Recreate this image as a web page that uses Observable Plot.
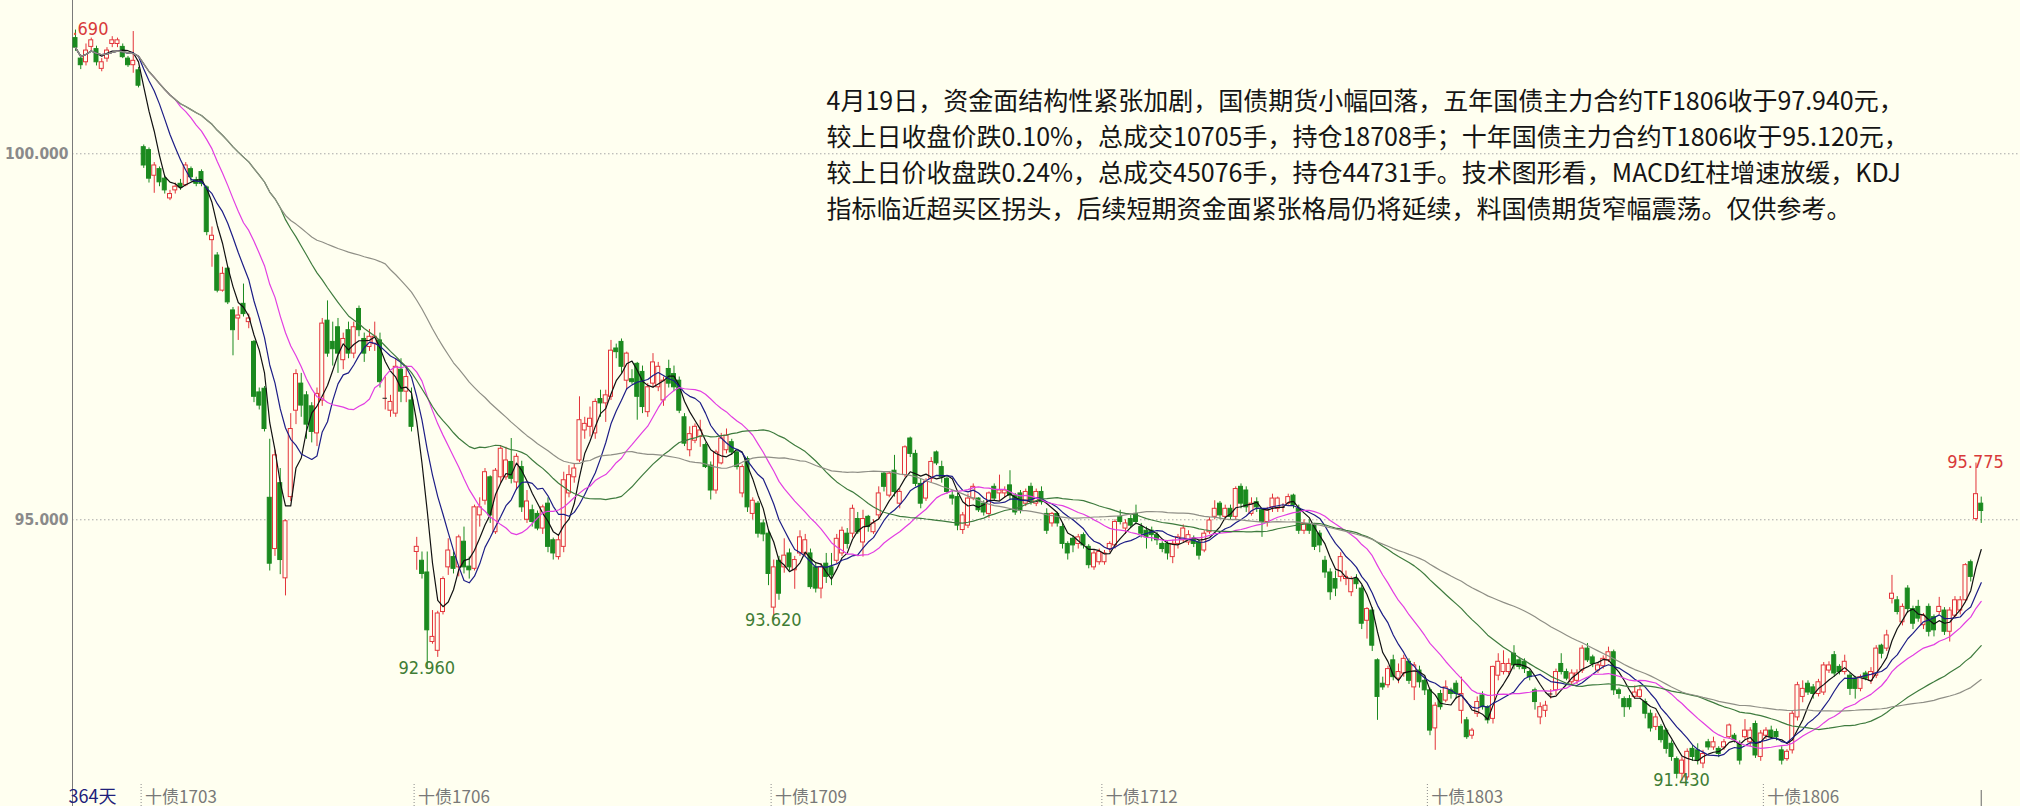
<!DOCTYPE html>
<html><head><meta charset="utf-8">
<script src="https://cdn.jsdelivr.net/npm/d3@7"></script>
<script src="https://cdn.jsdelivr.net/npm/@observablehq/plot@0.6"></script>
<style>
html,body{margin:0;padding:0;background:#fffff0;}
#chart{width:2020px;height:806px;overflow:hidden;}
</style></head>
<body><div id="chart"></div>
<script>
// ---- data, one candle per trading day ----
const open = [
101.58,101.30,101.25,101.46,101.43,101.16,101.30,101.50,101.50,101.46,
101.30,101.21,101.14,100.09,100.05,99.70,99.79,99.66,99.39,99.50,
99.59,99.57,99.79,99.64,99.75,99.54,98.82,98.61,98.13,98.43,
97.86,97.75,97.95,97.70,97.43,96.74,96.79,95.30,94.60,95.50,
94.20,95.31,96.49,96.86,96.70,96.55,96.18,96.63,97.72,97.43,
97.63,97.18,97.59,97.27,97.88,97.47,97.36,97.40,97.45,96.66,
96.49,96.45,97.05,96.75,96.63,94.56,94.44,94.28,93.33,93.21,
93.74,94.35,94.49,94.35,94.70,94.36,94.33,95.06,95.26,95.58,
94.83,95.58,95.58,95.79,95.51,95.72,95.00,95.13,95.08,94.88,
95.22,94.72,94.49,94.63,95.36,95.58,95.81,96.22,96.27,96.18,
96.65,96.59,96.68,97.34,97.43,96.90,96.92,97.13,97.02,96.47,
96.86,96.81,96.63,97.06,96.99,96.90,96.40,95.95,96.08,96.13,
96.02,95.74,95.40,95.77,95.95,96.06,95.92,95.36,95.83,95.08,
95.22,94.95,94.81,93.80,94.44,94.35,94.54,94.31,94.54,94.54,
94.54,94.35,94.06,94.40,94.35,94.44,94.54,94.81,94.81,95.01,
94.69,95.04,94.83,95.06,95.63,95.33,95.67,95.22,95.61,96.11,
95.90,95.49,95.29,95.56,95.92,95.72,95.56,95.33,95.31,94.86,
94.92,95.29,95.29,95.22,95.08,95.45,95.36,95.36,95.47,95.33,
95.36,95.22,95.45,95.22,95.38,95.08,94.95,95.08,94.90,94.67,
94.74,94.67,94.79,94.63,94.35,94.42,94.42,94.60,94.65,95.04,
94.88,95.01,95.08,94.90,94.85,94.85,94.79,94.67,94.67,94.49,
94.67,94.72,94.69,94.74,94.69,94.58,94.83,95.04,95.22,95.04,
95.15,95.04,95.45,95.40,95.08,95.24,95.13,94.97,95.17,95.15,
95.17,95.22,95.33,95.15,94.85,94.94,94.92,94.81,94.44,94.28,
94.19,94.22,94.19,94.01,94.19,94.06,93.62,93.76,93.08,92.76,
92.74,93.08,92.83,92.90,93.06,92.71,92.94,92.80,92.67,92.15,
92.62,92.53,92.67,92.76,92.39,92.26,92.05,92.35,92.60,92.44,
92.28,92.87,92.92,92.92,93.17,93.08,93.06,92.92,92.67,92.30,
92.39,92.62,92.67,93.03,92.92,92.78,92.80,92.94,93.24,93.12,
92.94,93.00,93.08,93.19,92.67,92.55,92.55,92.58,92.58,92.51,
92.35,92.17,92.17,92.12,91.94,91.73,91.53,91.48,91.87,91.85,
91.67,91.96,91.89,91.87,91.89,92.03,92.05,91.94,92.03,91.96,
92.21,91.76,92.05,92.12,92.10,91.85,91.73,91.85,92.30,92.58,
92.76,92.71,92.62,92.64,92.94,93.15,92.99,92.92,92.87,92.83,
92.69,92.90,92.80,92.87,93.28,93.24,93.92,93.90,93.60,94.06,
93.78,93.81,93.56,93.81,93.67,93.74,93.76,93.47,93.69,93.76,
93.90,94.42,95.01,95.22];
const high = [
101.69,101.35,101.50,101.58,101.47,101.30,101.45,101.60,101.58,101.50,
101.33,101.67,101.18,100.12,100.08,99.88,99.82,99.70,99.50,99.60,
99.65,99.88,99.82,99.68,99.78,99.56,99.00,98.65,98.45,98.46,
97.90,97.91,98.22,97.81,97.45,96.80,96.82,96.10,95.95,95.70,
95.00,96.45,97.05,97.00,96.75,96.60,96.80,97.75,97.99,97.70,
97.75,97.55,97.70,97.70,97.92,97.55,97.60,97.70,97.55,96.95,
96.70,97.20,97.20,97.10,96.80,94.76,94.56,94.56,93.76,93.75,
94.22,94.74,94.56,94.79,94.90,94.49,95.20,95.30,95.70,95.60,
95.70,96.00,95.99,96.11,95.90,95.80,95.40,95.20,95.12,95.20,
95.30,94.75,94.80,95.65,95.74,95.77,96.68,96.40,96.54,96.65,
96.77,96.77,97.45,97.40,97.47,97.29,97.05,97.15,97.10,96.86,
97.27,97.15,96.95,97.18,97.10,96.95,96.45,96.27,96.31,96.36,
96.05,95.79,95.95,96.18,96.24,96.10,95.95,95.75,95.86,95.30,
95.25,95.00,94.85,94.45,94.50,94.74,94.60,94.50,94.85,94.80,
94.60,94.40,94.40,94.54,94.54,94.80,94.90,94.88,95.20,95.10,
95.13,95.06,95.00,95.45,95.65,95.66,95.88,95.42,96.01,96.13,
95.95,95.55,95.56,95.85,95.94,95.80,95.60,95.40,95.36,95.10,
95.35,95.49,95.30,95.26,95.38,95.49,95.61,95.45,95.67,95.36,
95.40,95.42,95.50,95.42,95.45,95.15,95.10,95.10,94.95,94.70,
94.78,94.80,94.82,94.66,94.58,94.60,94.58,94.70,95.00,95.13,
95.00,95.06,95.20,94.95,94.90,94.90,94.83,94.70,94.70,94.72,
94.80,94.93,94.85,94.78,94.72,94.85,95.03,95.26,95.25,95.20,
95.20,95.45,95.49,95.45,95.30,95.30,95.15,95.17,95.35,95.31,
95.22,95.35,95.35,95.20,95.00,95.00,94.95,94.85,94.50,94.33,
94.30,94.55,94.30,94.22,94.25,94.10,93.80,93.80,93.10,92.85,
93.00,93.15,93.03,93.15,93.10,93.05,93.00,92.85,92.70,92.50,
92.67,92.80,92.70,92.80,92.85,92.30,92.15,92.58,92.65,92.46,
93.00,93.17,93.21,93.10,93.28,93.12,93.10,92.95,92.70,92.50,
92.52,92.68,92.96,93.17,92.96,92.95,92.95,93.28,93.31,93.15,
93.05,93.14,93.26,93.22,92.70,92.58,92.60,92.73,92.72,92.55,
92.40,92.35,92.20,92.15,91.98,91.76,91.76,91.87,91.92,91.94,
91.85,92.00,92.03,91.90,92.00,92.21,92.08,91.98,92.27,92.16,
92.25,92.12,92.16,92.18,92.14,91.90,91.86,92.39,92.78,92.80,
92.80,92.75,92.82,93.05,93.06,93.20,93.02,93.15,92.90,92.86,
92.88,92.93,92.98,93.28,93.30,93.49,94.24,93.95,93.85,94.10,
93.82,93.90,93.72,93.85,93.70,93.94,93.80,93.80,93.95,93.95,
94.40,94.45,95.775,95.31];
const low = [
101.40,101.15,101.20,101.40,101.20,101.12,101.25,101.45,101.45,101.30,
101.18,101.10,100.90,99.80,99.60,99.46,99.55,99.45,99.36,99.45,
99.50,99.55,99.62,99.55,99.55,98.88,98.45,98.10,98.11,97.94,
97.24,97.45,97.77,97.61,96.60,96.50,96.20,94.30,94.50,94.25,
93.96,95.25,96.30,96.40,96.10,96.05,96.00,96.55,97.22,97.10,
97.00,97.05,97.20,97.20,97.50,97.15,97.30,97.30,96.80,96.50,
96.40,96.40,96.60,96.60,96.20,94.31,94.19,92.96,93.30,93.12,
93.70,94.24,94.26,94.22,94.26,94.19,94.30,94.90,95.20,94.95,
94.80,95.50,95.54,95.49,95.40,95.10,94.95,94.90,94.85,94.80,
94.55,94.45,94.45,94.55,95.30,95.50,95.78,96.10,96.13,96.10,
96.40,96.33,96.63,97.20,97.00,96.77,96.85,96.36,96.45,96.40,
96.80,96.75,96.55,96.80,96.75,96.45,96.00,95.86,96.04,95.99,
95.70,95.27,95.35,95.75,95.90,95.88,95.68,95.30,95.10,95.00,
94.75,94.70,94.10,93.62,93.90,94.27,94.30,94.05,94.50,94.50,
94.05,94.00,93.92,94.13,94.10,94.40,94.50,94.60,94.75,94.80,
94.49,94.83,94.80,95.00,95.38,95.30,95.31,95.15,95.58,95.85,
95.45,95.15,95.25,95.50,95.74,95.50,95.35,95.20,94.85,94.80,
94.88,95.26,95.10,95.05,95.02,95.26,95.26,95.30,95.26,95.06,
95.08,95.18,95.20,95.18,95.20,94.80,94.90,94.90,94.60,94.45,
94.55,94.60,94.60,94.33,94.31,94.38,94.38,94.55,94.60,94.93,
94.80,94.88,94.93,94.75,94.60,94.70,94.65,94.55,94.45,94.40,
94.60,94.68,94.65,94.62,94.45,94.55,94.80,95.00,95.00,95.00,
95.00,95.00,95.15,95.10,95.05,95.10,94.76,94.90,95.10,95.10,
95.10,95.20,95.15,94.80,94.80,94.80,94.58,94.55,94.20,93.90,
93.95,94.15,94.10,93.95,94.05,93.50,93.37,93.20,92.26,92.67,
92.70,92.80,92.76,92.85,92.75,92.53,92.70,92.60,92.05,91.85,
92.40,92.50,92.55,92.55,92.21,92.00,92.00,92.30,92.40,92.21,
92.21,92.80,92.88,92.88,92.95,92.95,92.90,92.80,92.40,92.20,
92.30,92.55,92.60,92.88,92.80,92.75,92.75,92.90,93.05,92.98,
92.90,92.96,93.05,92.60,92.55,92.30,92.40,92.55,92.55,92.28,
92.10,92.12,91.95,91.80,91.70,91.46,91.43,91.44,91.70,91.65,
91.60,91.85,91.85,91.75,91.85,92.00,91.95,91.65,92.00,91.90,
91.74,91.70,92.00,92.00,91.98,91.65,91.70,91.80,92.25,92.50,
92.60,92.55,92.58,92.60,92.90,92.85,92.88,92.88,92.60,92.55,
92.65,92.80,92.75,92.83,93.10,93.20,93.85,93.70,93.55,93.72,
93.50,93.60,93.50,93.40,93.40,93.70,93.42,93.33,93.65,93.70,
93.87,94.15,94.98,94.95];
const close = [
101.45,101.21,101.41,101.55,101.25,101.25,101.41,101.55,101.55,101.32,
101.21,101.27,100.93,99.84,99.66,99.84,99.61,99.50,99.45,99.55,
99.54,99.84,99.68,99.59,99.59,98.93,98.88,98.13,98.36,97.97,
97.59,97.79,97.81,97.75,96.68,96.56,96.24,94.40,95.88,94.45,
94.98,96.24,96.99,96.56,96.30,96.20,96.72,97.68,97.27,97.33,
97.27,97.47,97.27,97.63,97.59,97.27,97.50,97.50,96.88,96.66,
96.61,97.09,96.75,96.95,96.27,94.63,94.26,93.49,93.40,93.72,
94.19,94.58,94.33,94.76,94.35,94.31,95.17,95.17,95.65,95.06,
95.67,95.97,95.81,95.56,95.86,95.17,95.25,94.97,94.88,95.17,
94.63,94.54,94.72,95.54,95.61,95.70,96.36,96.31,96.38,96.61,
96.59,96.70,97.31,97.29,97.09,97.27,96.88,96.68,96.54,96.81,
97.15,97.09,96.90,96.86,96.81,96.49,96.04,96.17,96.27,96.22,
95.72,95.40,95.92,96.11,96.15,95.92,95.72,95.72,95.17,95.26,
94.81,94.80,94.26,94.35,93.99,94.51,94.35,94.45,94.76,94.72,
94.08,94.06,94.35,94.22,94.24,94.74,94.85,94.67,95.15,94.83,
95.01,94.90,94.95,95.36,95.45,95.63,95.38,95.38,95.99,95.90,
95.49,95.22,95.52,95.79,95.77,95.58,95.38,95.29,94.92,95.06,
95.29,95.45,95.13,95.10,95.36,95.29,95.40,95.40,95.33,95.10,
95.13,95.38,95.26,95.38,95.24,94.85,95.08,94.95,94.67,94.54,
94.65,94.76,94.65,94.38,94.54,94.56,94.54,94.67,94.97,94.97,
94.95,94.92,94.97,94.81,94.76,94.79,94.72,94.60,94.54,94.67,
94.76,94.88,94.79,94.67,94.51,94.81,94.99,95.15,95.06,95.15,
95.04,95.42,95.22,95.17,95.22,95.17,94.97,95.13,95.29,95.29,
95.17,95.31,95.20,94.85,94.94,94.85,94.63,94.65,94.28,94.01,
94.06,94.49,94.22,94.19,94.12,93.58,93.78,93.28,92.58,92.71,
92.96,92.85,92.92,93.10,92.80,93.01,92.78,92.67,92.12,92.46,
92.44,92.71,92.62,92.62,92.62,92.03,92.12,92.51,92.44,92.26,
92.99,93.06,93.03,93.03,93.01,92.99,92.96,92.85,92.51,92.44,
92.46,92.62,92.92,92.92,92.83,92.90,92.90,93.24,93.08,93.03,
93.01,93.10,93.19,92.67,92.62,92.44,92.44,92.64,92.67,92.35,
92.15,92.30,91.99,91.87,91.76,91.53,91.71,91.83,91.76,91.71,
91.80,91.89,91.96,91.80,91.96,92.19,91.99,91.71,92.12,92.12,
91.78,92.08,92.12,92.03,92.03,91.71,91.83,92.35,92.74,92.69,
92.64,92.62,92.78,93.01,93.01,92.90,92.92,93.06,92.69,92.69,
92.85,92.83,92.92,93.24,93.17,93.42,93.99,93.74,93.81,93.78,
93.58,93.65,93.69,93.47,93.49,93.81,93.47,93.76,93.90,93.90,
94.38,94.22,95.35,95.12];

// contract roll points on the time axis and their labels
const rollPos = [12.5, 64.5, 132.5, 195.5, 257.5, 321.5];
const rollLabels = ["十债1703","十债1706","十债1709","十债1712","十债1803","十债1806"];
// marked extremes: bar index and which end
const markIdx  = [0, 67, 133, 306, 362];
const markKind = ["high","low","low","low","high"];
const yTicks = [95, 100];
const maWindows = [5, 10, 20, 40, 60];
const maColors  = ["#111111", "#1d1d86", "#e23ee2", "#3e7b3e", "#8f8f86"];
const barCountLabel = "364天";
const noteLines = [
  "4月19日，资金面结构性紧张加剧，国债期货小幅回落，五年国债主力合约TF1806收于97.940元，",
  "较上日收盘价跌0.10%，总成交10705手，持仓18708手；十年国债主力合约T1806收于95.120元，",
  "较上日价收盘跌0.24%，总成交45076手，持仓44731手。技术图形看，MACD红柱增速放缓，KDJ",
  "指标临近超买区拐头，后续短期资金面紧张格局仍将延续，料国债期货窄幅震荡。仅供参考。"
];

// ---- build ----
const BG = "#fffff0", RED = "#e3343a", GREEN = "#1b8a1f";
const N = close.length;
const bars = d3.range(N).map(i => ({i, o: open[i], h: high[i], l: low[i], c: close[i], up: close[i] >= open[i]}));
const maData = [];
maWindows.forEach((w, k) => {
  for (let i = 0; i < N; i++) {
    const s = Math.max(0, i - w + 1);
    maData.push({k, i, v: d3.mean(close.slice(s, i + 1))});
  }
});
const marks = markIdx.map((i, j) => ({i, kind: markKind[j], v: markKind[j] === "high" ? high[i] : low[i]}));
const numFont = "'Liberation Sans Narrow','DejaVu Sans Condensed','Liberation Sans',sans-serif";

const chart = Plot.plot({
  width: 2020, height: 806,
  marginLeft: 72, marginRight: 0, marginTop: 0, marginBottom: 0,
  x: {domain: [-0.571, 370.48], axis: null},
  y: {domain: [91.083, 102.094], axis: null},
  color: {type: "identity"},
  style: {background: BG, overflow: "hidden"},
  marks: [
    Plot.gridY(yTicks, {stroke: "#a8a8a8", strokeOpacity: 1, strokeDasharray: "1.5,2.5"}),
    Plot.axisY(yTicks, {tickSize: 0, tickPadding: 4, tickFormat: d => d.toFixed(3), fontSize: 15.5, fontWeight: "bold", fill: "#8a8a8a", fontFamily: numFont}),
    Plot.frame({anchor: "left", stroke: "#7a7a7a"}),
    // candles
    Plot.ruleX(bars, {x: "i", y1: "l", y2: "h", stroke: d => d.up ? RED : GREEN, strokeWidth: 1}),
    Plot.rect(bars.filter(d => d.o !== d.c), {x1: d => d.i - 0.38, x2: d => d.i + 0.38, y1: "o", y2: "c",
      fill: d => d.up ? BG : GREEN, stroke: d => d.up ? RED : GREEN, strokeWidth: 1}),
    Plot.ruleY(bars.filter(d => d.o === d.c), {y: "c", x1: d => d.i - 0.42, x2: d => d.i + 0.42, stroke: "#222"}),
    // moving averages
    ...maWindows.map((w, k) => Plot.line(maData.filter(d => d.k === k), {x: "i", y: "v", stroke: maColors[k], strokeWidth: 1.2})),
    // extreme labels
    Plot.text(marks, {x: "i", y: "v", text: d => d.v.toFixed(3), clip: true,
      textAnchor: d => d.i === 0 ? "end" : "middle",
      dx: d => d.i === 0 ? 29 : 0,
      dy: d => d.kind === "high" ? -15 : 16,
      fill: d => d.kind === "high" ? "#d83a3a" : "#3f7d35",
      fontSize: 18, fontFamily: numFont}),
    // commentary
    Plot.text([noteLines.join("\n")], {frameAnchor: "top-left", dx: 754, dy: 84, textAnchor: "start", lineAnchor: "top",
      lineHeight: 1.44, fontSize: 25, fill: "#151515", fontFamily: "'Noto Sans CJK SC',sans-serif"}),
    // time axis inside the frame
    Plot.ruleX(rollPos, {x: d => d, insetTop: 784, stroke: "#8a8a8a", strokeDasharray: "1,2"}),
    Plot.text(rollPos, {x: d => d, text: (d, j) => rollLabels[j], frameAnchor: "bottom", textAnchor: "start", lineAnchor: "bottom",
      dx: 4, dy: -4, fontSize: 17, fill: "#787878", fontFamily: "'Noto Sans CJK SC'," + numFont}),
    Plot.text([barCountLabel], {frameAnchor: "bottom-left", textAnchor: "start", lineAnchor: "bottom", dx: -4, dy: -4,
      fontSize: 18, fill: "#20207a", fontFamily: "'Noto Sans CJK SC'," + numFont}),
    Plot.ruleX([N - 1], {x: d => d, insetTop: 790, stroke: "#666"})
  ]
});
document.getElementById("chart").append(chart);
</script>
</body></html>
